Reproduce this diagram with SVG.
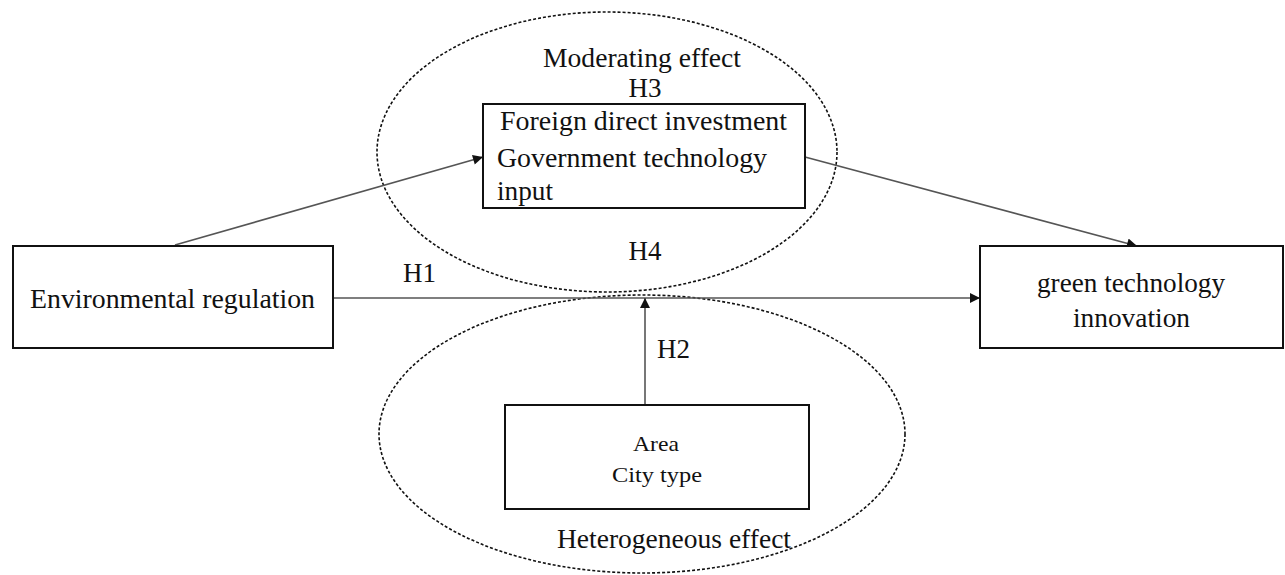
<svg xmlns="http://www.w3.org/2000/svg" width="1285" height="575" viewBox="0 0 1285 575">
<style>
.box{fill:#fff;stroke:#111;stroke-width:2}
.ell{fill:none;stroke:#111;stroke-width:1.6;stroke-dasharray:3 2}
.t{font-family:"Liberation Serif","Times New Roman",serif;fill:#111;font-size:27px}
.s{font-size:21px}
.c{fill:none;stroke:#555;stroke-width:1.6}
</style>
<defs>
<marker id="ah" viewBox="0 0 10 10" refX="10" refY="5" markerWidth="11" markerHeight="10" markerUnits="userSpaceOnUse" orient="auto"><path d="M0,0L10,5L0,10z" fill="#111"/></marker>
</defs>
<rect width="1285" height="575" fill="#fff"/>
<g id="moderating">
<ellipse class="ell" cx="607" cy="152" rx="230" ry="140"/>
<text class="t" x="543" y="67" textLength="198" lengthAdjust="spacingAndGlyphs">Moderating effect</text>
<text class="t" x="645" y="97" text-anchor="middle">H3</text>
<text class="t" x="645" y="260" text-anchor="middle">H4</text>
</g>
<g id="heterogeneous">
<ellipse class="ell" cx="642" cy="434" rx="263" ry="139"/>
<text class="t" x="557" y="548" textLength="234" lengthAdjust="spacingAndGlyphs">Heterogeneous effect</text>
</g>
<g id="connectors">
<line class="c" x1="175" y1="245" x2="483" y2="157" marker-end="url(#ah)"/>
<line class="c" x1="805" y1="157" x2="1137" y2="246" marker-end="url(#ah)"/>
<line class="c" x1="333" y1="298" x2="980" y2="298" marker-end="url(#ah)"/>
<line class="c" x1="645" y1="405" x2="645" y2="298" marker-end="url(#ah)"/>
<text class="t" x="403" y="282">H1</text>
<text class="t" x="657" y="358">H2</text>
</g>
<g id="env">
<rect class="box" x="13" y="246" width="320" height="102"/>
<text class="t" x="30" y="308" textLength="285" lengthAdjust="spacingAndGlyphs">Environmental regulation</text>
</g>
<g id="fdi">
<rect class="box" x="483" y="104" width="322" height="104"/>
<text class="t" x="500" y="130" textLength="287" lengthAdjust="spacingAndGlyphs">Foreign direct investment</text>
<text class="t" x="497" y="167" textLength="270" lengthAdjust="spacingAndGlyphs">Government technology</text>
<text class="t" x="497" y="200" textLength="56" lengthAdjust="spacingAndGlyphs">input</text>
</g>
<g id="green">
<rect class="box" x="980" y="246" width="303" height="102"/>
<text class="t" x="1037" y="292" textLength="188" lengthAdjust="spacingAndGlyphs">green technology</text>
<text class="t" x="1073" y="327" textLength="117" lengthAdjust="spacingAndGlyphs">innovation</text>
</g>
<g id="area">
<rect class="box" x="505" y="405" width="304" height="104"/>
<text class="t s" x="633" y="451" textLength="46" lengthAdjust="spacingAndGlyphs">Area</text>
<text class="t s" x="612" y="482" textLength="90" lengthAdjust="spacingAndGlyphs">City type</text>
</g>
</svg>
